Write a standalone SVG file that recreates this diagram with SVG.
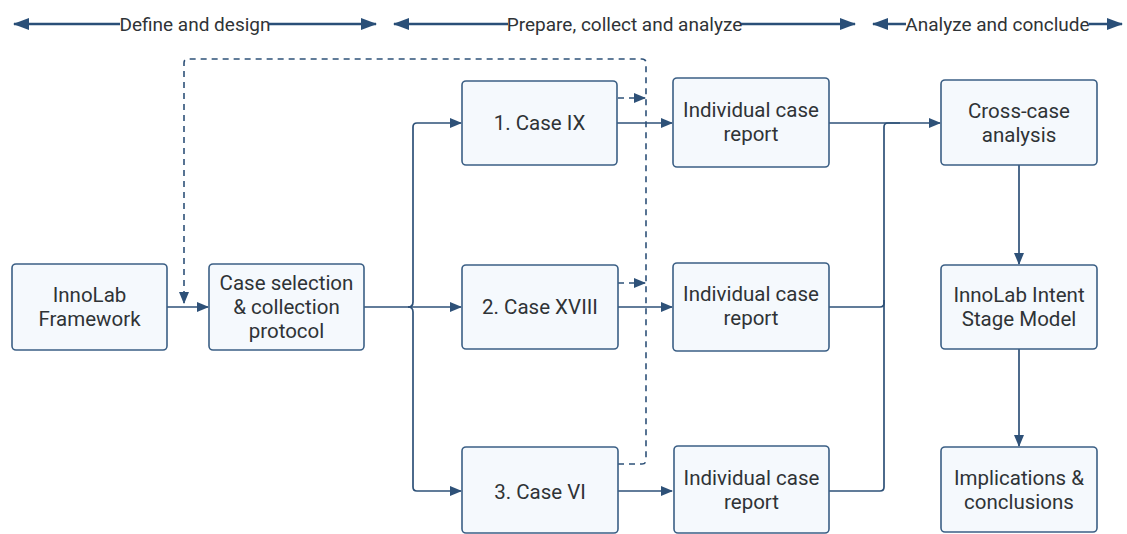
<svg xmlns="http://www.w3.org/2000/svg" width="1127" height="534" viewBox="0 0 1127 534">
<style>
.node rect{fill:#f5f9fd;stroke:#3b5f85;stroke-width:1.6}
.node text,.hdr text{font-family:Roboto,"Liberation Sans",sans-serif;font-size:20.5px;fill:#2f3336;text-anchor:middle}
.hdr text{font-size:19px}
.hdr line{stroke:#2a4f78;stroke-width:2.6}
.c{fill:none;stroke:#2e5178;stroke-width:1.7}
.d{fill:none;stroke:#2e5178;stroke-width:1.6;stroke-dasharray:6 5}
</style>
<defs>
<marker id="ah" markerUnits="userSpaceOnUse" markerWidth="12" markerHeight="10" refX="11" refY="5" orient="auto"><path d="M0,0 L12,5 L0,10 Z" fill="#2e5178"/></marker>
<marker id="hh" markerUnits="userSpaceOnUse" markerWidth="16" markerHeight="12" refX="15" refY="6" orient="auto-start-reverse"><path d="M0,0 L16,6 L0,12 Z" fill="#2a4f78"/></marker>
</defs>
<rect width="1127" height="534" fill="#ffffff"/>
<g class="hdr" id="hdr1"><line x1="14" y1="24" x2="120" y2="24" marker-start="url(#hh)"/><line x1="269" y1="24" x2="376" y2="24" marker-end="url(#hh)"/><text x="195" y="30.5">Define and design</text></g>
<g class="hdr" id="hdr2"><line x1="394" y1="24" x2="508" y2="24" marker-start="url(#hh)"/><line x1="741" y1="24" x2="855" y2="24" marker-end="url(#hh)"/><text x="624.5" y="30.5">Prepare, collect and analyze</text></g>
<g class="hdr" id="hdr3"><line x1="873" y1="24" x2="906" y2="24" marker-start="url(#hh)"/><line x1="1089" y1="24" x2="1122" y2="24" marker-end="url(#hh)"/><text x="997.5" y="30.5">Analyze and conclude</text></g>
<g id="connectors">
<path class="d" d="M618,464 H642 Q646,464 646,460 V63 Q646,59 642,59 H188 Q184,59 184,63 V303" marker-end="url(#ah)"/>
<path class="d" d="M618,98 H645" marker-end="url(#ah)"/>
<path class="d" d="M618,283 H645" marker-end="url(#ah)"/>
<path class="c" d="M167,307 H208" marker-end="url(#ah)"/>
<path class="c" d="M364,307 H461" marker-end="url(#ah)"/>
<path class="c" d="M408,307 Q413,307 413,302 V127 Q413,123 417,123 H461" marker-end="url(#ah)"/>
<path class="c" d="M408,307 Q413,307 413,312 V487 Q413,491 417,491 H461" marker-end="url(#ah)"/>
<path class="c" d="M617,123 H672" marker-end="url(#ah)"/>
<path class="c" d="M618,307 H672" marker-end="url(#ah)"/>
<path class="c" d="M618,491 H672" marker-end="url(#ah)"/>
<path class="c" d="M829,123 H940" marker-end="url(#ah)"/>
<path class="c" d="M829,307 H880 Q884,307 884,303 V127 Q884,123 888,123 H900"/>
<path class="c" d="M829,491 H880 Q884,491 884,487 V300"/>
<path class="c" d="M1019,165 V264" marker-end="url(#ah)"/>
<path class="c" d="M1019,349 V446" marker-end="url(#ah)"/>
</g>
<g class="node" id="n_framework"><rect x="12" y="264" width="155" height="86" rx="4"/><text x="89.5" y="302">InnoLab</text><text x="89.5" y="326">Framework</text></g>
<g class="node" id="n_selection"><rect x="209" y="264" width="155" height="86" rx="4"/><text x="286.5" y="290">Case selection</text><text x="286.5" y="314">&amp; collection</text><text x="286.5" y="338">protocol</text></g>
<g class="node" id="n_case1"><rect x="462" y="81" width="155" height="84" rx="4"/><text x="539.5" y="129.5">1. Case IX</text></g>
<g class="node" id="n_case2"><rect x="462" y="265" width="156" height="84" rx="4"/><text x="540" y="313.5">2. Case XVIII</text></g>
<g class="node" id="n_case3"><rect x="462" y="447" width="156" height="86" rx="4"/><text x="540" y="498.5">3. Case VI</text></g>
<g class="node" id="n_report1"><rect x="673" y="78" width="156" height="89" rx="4"/><text x="751" y="117">Individual case</text><text x="751" y="141">report</text></g>
<g class="node" id="n_report2"><rect x="673" y="263" width="156" height="88" rx="4"/><text x="751" y="301">Individual case</text><text x="751" y="325">report</text></g>
<g class="node" id="n_report3"><rect x="674" y="446" width="155" height="87" rx="4"/><text x="751.5" y="485">Individual case</text><text x="751.5" y="509">report</text></g>
<g class="node" id="n_cross"><rect x="941" y="80" width="156" height="85" rx="4"/><text x="1019" y="118">Cross-case</text><text x="1019" y="142">analysis</text></g>
<g class="node" id="n_intent"><rect x="941" y="265" width="156" height="84" rx="4"/><text x="1019" y="302">InnoLab Intent</text><text x="1019" y="326">Stage Model</text></g>
<g class="node" id="n_impl"><rect x="941" y="447" width="156" height="85" rx="4"/><text x="1019" y="485">Implications &amp;</text><text x="1019" y="509">conclusions</text></g>
</svg>
